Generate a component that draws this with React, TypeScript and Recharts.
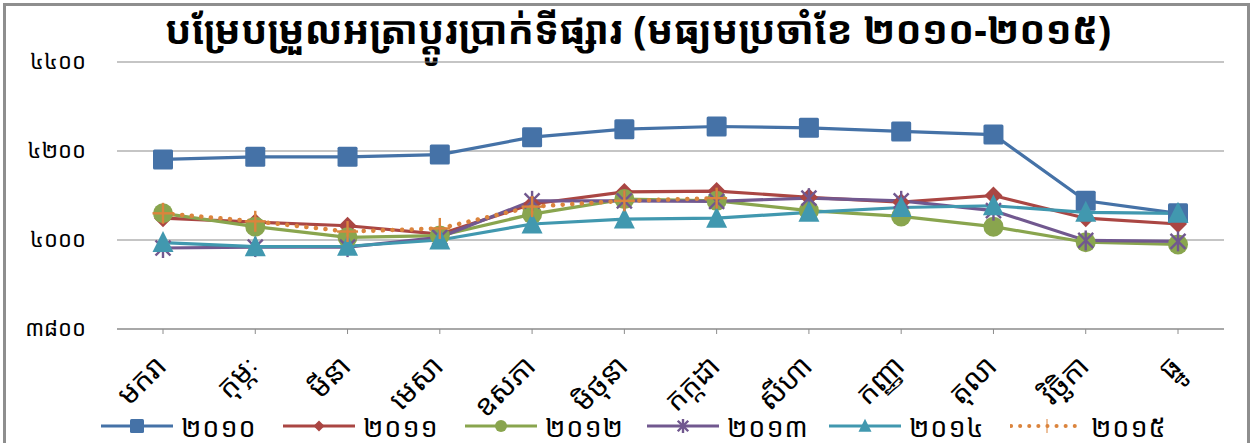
import React from 'react';
import { LineChart, Line, XAxis, YAxis, CartesianGrid, Legend } from 'recharts';

const months = ['មករា', 'កុម្ភៈ', 'មីនា', 'មេសា', 'ឧសភា', 'មិថុនា', 'កក្កដា', 'សីហា', 'កញ្ញា', 'តុលា', 'វិច្ឆិកា', 'ធ្នូ'];
const y2010 = [4181, 4187, 4187, 4192, 4231, 4249, 4255, 4252, 4244, 4237, 4088, 4060];
const y2011 = [4049, 4040, 4032, 4013, 4081, 4108, 4110, 4096, 4085, 4100, 4049, 4036];
const y2012 = [4060, 4030, 4006, 4010, 4058, 4092, 4088, 4066, 4053, 4030, 3995, 3990];
const y2013 = [3982, 3984, 3984, 4006, 4088, 4088, 4087, 4094, 4088, 4066, 3999, 3997];
const y2014 = [3994, 3985, 3986, 4000, 4036, 4047, 4049, 4062, 4073, 4077, 4062, 4060];
const y2015 = [4060, 4042, 4019, 4026, 4075, 4088, 4094, null, null, null, null, null];
const yTicks = [3800, 4000, 4200, 4400];
const yTickLabels = ['៣៨០០', '៤០០០', '៤២០០', '៤៤០០'];
const seriesNames = ['២០១០', '២០១១', '២០១២', '២០១៣', '២០១៤', '២០១៥'];
const title = 'បម្រែបម្រួលអត្រាប្តូរប្រាក់ទីផ្សារ (មធ្យមប្រចាំខែ ២០១០-២០១៥)';

const data = months.map((m, i) => ({
  month: m,
  s2010: y2010[i],
  s2011: y2011[i],
  s2012: y2012[i],
  s2013: y2013[i],
  s2014: y2014[i],
  s2015: y2015[i],
}));

const KH = '"Khmer OS", "Khmer OS System", "Noto Sans Khmer", "Noto Serif Khmer", "Hanuman", "Battambang", "Noto Sans", sans-serif';

const colors = ['#4572A7', '#AA4643', '#89A54E', '#71588F', '#4198AF', '#DB843D'];
const keys = ['s2010', 's2011', 's2012', 's2013', 's2014', 's2015'];

type Shape = 'square' | 'diamond' | 'circle' | 'star' | 'triangle' | 'plus';
const shapes: Shape[] = ['square', 'diamond', 'circle', 'star', 'triangle', 'plus'];

function markerEl(shape: Shape, cx: number, cy: number, color: string, s: number, key?: string) {
  const h = s / 2;
  switch (shape) {
    case 'square':
      return <rect key={key} x={cx - h} y={cy - h} width={s} height={s} fill={color} rx={1.5} />;
    case 'diamond':
      return <polygon key={key} points={`${cx},${cy - h} ${cx + h},${cy} ${cx},${cy + h} ${cx - h},${cy}`} fill={color} />;
    case 'circle':
      return <circle key={key} cx={cx} cy={cy} r={h} fill={color} />;
    case 'triangle':
      return <polygon key={key} points={`${cx},${cy - h * 1.1} ${cx + h},${cy + h * 0.9} ${cx - h},${cy + h * 0.9}`} fill={color} />;
    case 'star': {
      const d = h * 0.75;
      return (
        <g key={key} stroke={color} strokeWidth={2.4}>
          <line x1={cx - d} y1={cy - d} x2={cx + d} y2={cy + d} />
          <line x1={cx - d} y1={cy + d} x2={cx + d} y2={cy - d} />
          <line x1={cx} y1={cy - h} x2={cx} y2={cy + h} />
        </g>
      );
    }
    case 'plus':
      return (
        <g key={key} stroke={color} strokeWidth={2.4}>
          <line x1={cx - h} y1={cy} x2={cx + h} y2={cy} />
          <line x1={cx} y1={cy - h} x2={cx} y2={cy + h} />
        </g>
      );
  }
}

const sizes = [20, 18, 20, 20, 21, 21];

const makeDot = (idx: number) => (props: any) => {
  const { cx, cy, value, index } = props;
  if (value == null || cx == null || cy == null) return <g key={`n${idx}-${index}`} />;
  return <g key={`d${idx}-${index}`}>{markerEl(shapes[idx], cx, cy, colors[idx], sizes[idx])}</g>;
};

const XTick = (props: any) => {
  const { x, y, payload } = props;
  const px = x + 5;
  const py = y + 32;
  return (
    <text x={px} y={py} transform={`rotate(-45, ${px}, ${py})`} textAnchor="end" fontFamily={KH} fontSize={29} fill="#000">
      {payload.value}
    </text>
  );
};

const YTick = (props: any) => {
  const { x, y, payload } = props;
  const i = yTicks.indexOf(payload.value);
  return (
    <text x={x - 23} y={y + 7} textAnchor="end" fontFamily={KH} fontSize={22} fill="#000">
      {yTickLabels[i]}
    </text>
  );
};

const LegendContent = () => (
  <div style={{ position: 'relative', width: 1254, height: 30 }}>
    {seriesNames.map((n, i) => {
      const left = 100 + i * 182;
      const legSizes = [14, 11, 12, 14, 13, 14];
      return (
        <div key={n} style={{ position: 'absolute', left, top: 0, height: 30, display: 'flex', alignItems: 'center' }}>
          <svg width={74} height={30}>
            <line
              x1={1}
              y1={15}
              x2={73}
              y2={15}
              stroke={colors[i]}
              strokeWidth={i === 5 ? 4 : 3}
              strokeDasharray={i === 5 ? '0.1 9' : undefined}
              strokeLinecap={i === 5 ? 'round' : 'butt'}
            />
            {i === 5
              ? <line x1={37} y1={8} x2={37} y2={22} stroke={colors[i]} strokeWidth={1} />
              : markerEl(shapes[i], 37, 15, colors[i], legSizes[i])}
          </svg>
          <span style={{ fontFamily: KH, fontSize: 27, color: '#000', marginLeft: 7, whiteSpace: 'nowrap', letterSpacing: 1 }}>{n}</span>
        </div>
      );
    })}
  </div>
);

export default function App() {
  return (
    <div style={{ position: 'absolute', left: 0, top: 0, width: 1254, height: 443, overflow: 'hidden', background: '#fff' }}>
      <div style={{ position: 'absolute', left: 3, top: 3, width: 1247, height: 480, border: '3px solid #8e8e8e', boxSizing: 'border-box' }} />
      <div
        style={{
          position: 'absolute',
          left: 0,
          top: 4,
          width: 1254,
          textAlign: 'center',
          fontFamily: KH,
          fontWeight: 'bold',
          fontSize: 39,
          color: '#000',
          lineHeight: '50px',
          paddingLeft: 22,
          boxSizing: 'border-box',
          whiteSpace: 'nowrap',
        }}
      >
        {title}
      </div>
      <LineChart
        width={1254}
        height={443}
        data={data}
        margin={{ top: 62, right: 30, left: 17, bottom: 0 }}
        style={{ position: 'absolute', left: 0, top: 0 }}
      >
        <CartesianGrid vertical={false} stroke="#8c8c8c" strokeWidth={1.2} />
        <XAxis
          dataKey="month"
          height={114}
          interval={0}
          padding={{ left: 46, right: 46 }}
          tick={<XTick />}
          axisLine={{ stroke: '#8c8c8c', strokeWidth: 1.2 }}
          tickLine={{ stroke: '#8c8c8c' }}
          tickSize={5}
        />
        <YAxis
          domain={[3800, 4400]}
          ticks={yTicks}
          width={100}
          axisLine={false}
          tickLine={false}
          tick={<YTick />}
          tickMargin={2}
        />
        <Legend
          verticalAlign="middle"
          align="center"
          layout="horizontal"
          wrapperStyle={{ top: 411, left: 0, width: 1254 }}
          content={<LegendContent />}
        />
        {keys.map((k, i) => (
          <Line
            key={k}
            type="linear"
            dataKey={k}
            name={seriesNames[i]}
            stroke={colors[i]}
            strokeWidth={i === 5 ? 4.5 : 3.2}
            strokeDasharray={i === 5 ? '0.1 9.5' : undefined}
            strokeLinecap={i === 5 ? 'round' : 'butt'}
            dot={makeDot(i)}
            activeDot={false}
            isAnimationActive={false}
            connectNulls={false}
          />
        ))}
      </LineChart>
    </div>
  );
}
